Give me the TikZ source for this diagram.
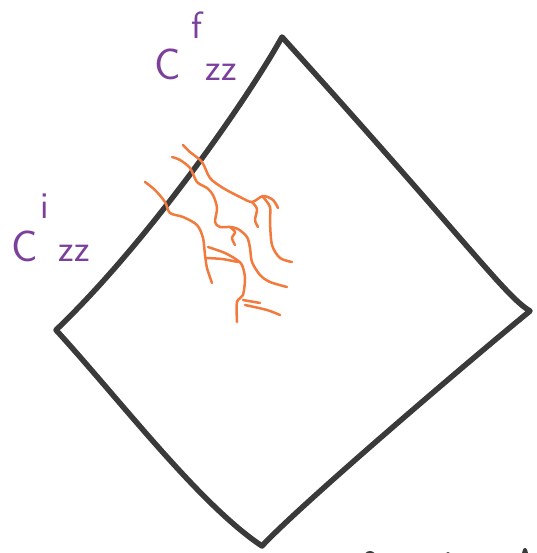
\documentclass[tikz,border=0pt]{standalone}
\usepackage{tikz}
\usetikzlibrary{positioning}
\definecolor{inkgrey}{HTML}{3A3A3A}
\definecolor{inkpurple}{HTML}{7B3F9C}
\definecolor{inkorange}{HTML}{F27A3C}

\begin{document}
\begin{tikzpicture}[x=1pt, y=-1pt,
  edge/.style={draw=inkgrey, line width=5.5pt, line join=round, line cap=round},
  fibre/.style={draw=inkorange, line width=2.5pt, line cap=round, line join=round},
  lbl/.style={text=inkpurple, inner sep=0pt, font=\sffamily\fontsize{44}{44}\selectfont},
  idx/.style={text=inkpurple, inner sep=0pt, font=\sffamily\fontsize{38}{38}\selectfont}]
\useasboundingbox[fill=white] (0,0) rectangle (536,553);
% corners of the patch
\coordinate (top) at (282,37);
\coordinate (rgt) at (530,311);
\coordinate (bot) at (262,546);
\coordinate (lft) at (56,330);
\draw[edge] (top) .. controls (250,95) and (150,240) .. (lft)
  .. controls (120,400) and (200,505) .. (bot)
  .. controls (300,505) and (470,360) .. (rgt)
  .. controls (505,296) and (470,245) .. (top) -- cycle;
% labels
\node[lbl] (cf) at (168,64) {C};
\node[idx] (cfup) at (197,25) {f};
\node[idx] (cfdn) at (221,72) {zz};
\node[lbl] (ci) at (25,246) {C};
\node[idx] (ciup) at (45,206) {i};
\node[idx] (cidn) at (74,253) {zz};
% strands crossing the edge
\draw[fibre] plot[smooth] coordinates {(183,145) (190,152) (202,162) (210,178) (223,188) (240,197) (252,202) (263,196) (273,200) (278,208)};
\draw[fibre] plot[smooth] coordinates {(252,202) (257,209) (255,220) (258,227)};
\draw[fibre] plot[smooth] coordinates {(263,197) (270,207) (270,222) (272,245) (280,258) (292,262)};
\draw[fibre] plot[smooth] coordinates {(172,157) (180,160) (190,168) (197,182) (207,188) (213,195) (217,208) (215,222) (220,227) (230,227) (238,229) (247,237) (250,248) (252,262) (260,275) (270,282) (287,287)};
\draw[fibre] plot[smooth] coordinates {(230,227) (235,232) (232,238) (235,245)};
\draw[fibre] plot[smooth] coordinates {(145,182) (155,190) (165,202) (170,213) (183,217) (197,225) (203,238) (205,255) (207,268) (212,283)};
\draw[fibre] plot[smooth] coordinates {(208,247) (225,253) (237,260) (242,265) (245,278) (243,295) (237,302) (237,322)};
\draw[fibre] plot[smooth] coordinates {(206,258) (222,259) (238,262)};
\draw[fibre] plot[smooth] coordinates {(243,300) (260,303)};
\draw[fibre] plot[smooth] coordinates {(245,305) (267,310) (280,315)};
% cut-off marks at the bottom edge
\fill[inkgrey] (370,557) ellipse (6 and 6);
\fill[inkgrey] (448,556) ellipse (3 and 4);
\fill[inkgrey] (525,555) ellipse (3 and 7);
\end{tikzpicture}
\end{document}
